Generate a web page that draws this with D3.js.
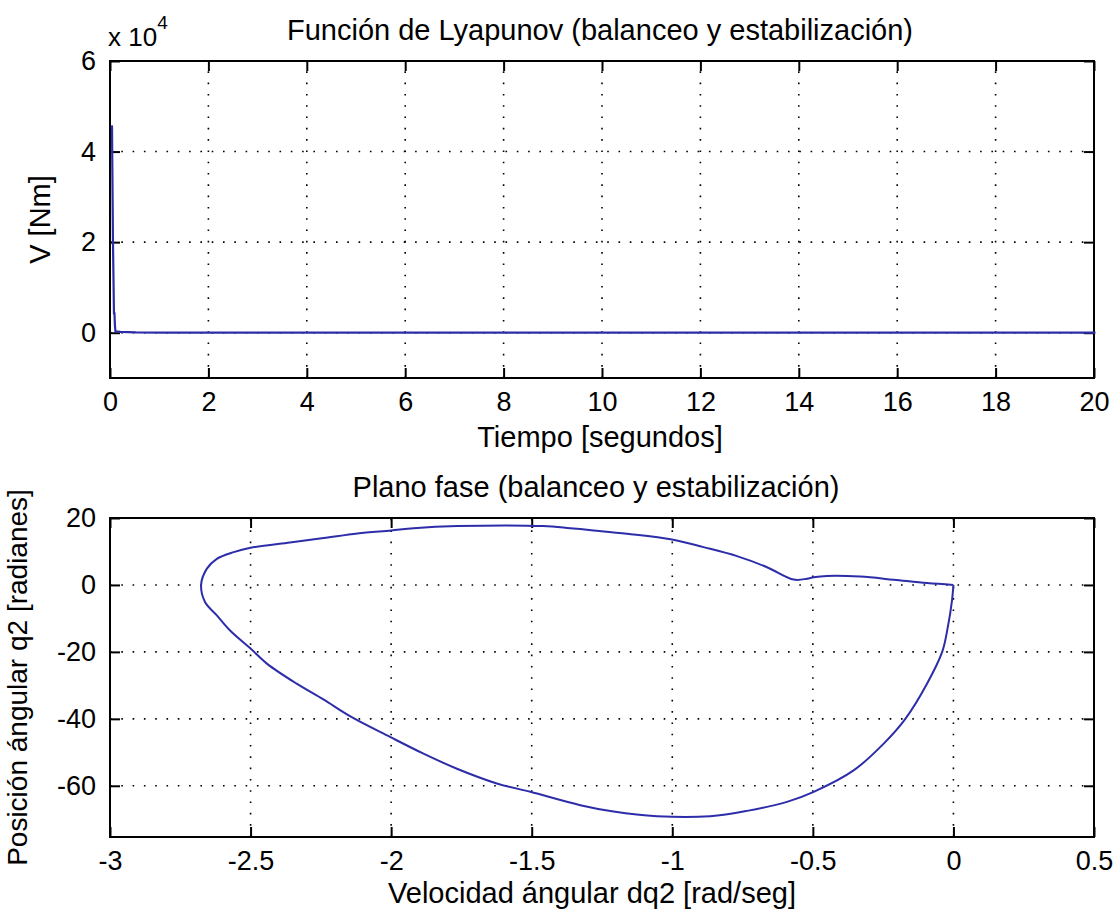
<!DOCTYPE html>
<html>
<head>
<meta charset="utf-8">
<script src="https://cdnjs.cloudflare.com/ajax/libs/d3/7.8.5/d3.min.js"></script>
<style>
  html, body { margin: 0; padding: 0; background: #ffffff; }
  svg { display: block; }
  text { font-family: "Liberation Sans", Arial, Helvetica, sans-serif; fill: #000; }
</style>
</head>
<body>
<svg id="fig" width="1119" height="917"></svg>
<script>
// Lyapunov function V(t) during swing-up and stabilisation
const lyapT = [0, 0.01, 0.03, 0.05, 0.06, 0.07, 0.08, 0.18, 0.5, 1, 2, 5, 10, 20];
const lyapV = [45800, 45500, 20000, 4300, 4300, 1500, 300, 200, 60, 20, 5, 0, 0, 0];
const topXTicks = [0, 2, 4, 6, 8, 10, 12, 14, 16, 18, 20];
const topYTicks = [0, 20000, 40000, 60000];

// Phase plane trajectory: angular velocity dq2 vs. angular position q2
const phaseDq2 = [0, -0.005, -0.02, -0.04, -0.094, -0.171, -0.248, -0.355, -0.497, -0.592,
  -0.734, -0.865, -1.054, -1.209, -1.327, -1.505, -1.624, -1.766, -1.885, -2.004,
  -2.14, -2.241, -2.336, -2.442, -2.50, -2.573, -2.62, -2.662, -2.676,
  -2.656, -2.62, -2.56, -2.50, -2.36, -2.24, -2.12, -2.0, -1.92, -1.765,
  -1.46, -1.363, -1.28, -1.161, -1.001, -0.889, -0.77, -0.663, -0.568, -0.521,
  -0.497, -0.45, -0.331, -0.212, -0.094, 0];
const phaseQ2 = [0, -4.6, -12.6, -20, -29.5, -40, -47.4, -55.4, -61.8, -64.8,
  -67.5, -69.1, -69.1, -67.7, -65.8, -61.8, -59.3, -54.9, -50.4, -45.4,
  -39.5, -34.2, -29.5, -23.5, -19.0, -13.6, -9.1, -5.1, 0,
  4.8, 7.8, 9.8, 11.1, 12.7, 14.0, 15.4, 16.3, 16.96, 17.6,
  17.6, 16.96, 16.3, 15.3, 13.6, 11.3, 8.6, 5.3, 1.6, 1.85,
  2.3, 2.7, 2.5, 1.55, 0.55, 0];
const botXTicks = [-3, -2.5, -2, -1.5, -1, -0.5, 0, 0.5];
const botYTicks = [-60, -40, -20, 0, 20];

const svg = d3.select("#fig");
const FS_TICK = 27;
const FS_LABEL = 29;
const lineColor = "#2d2daa";

function drawAxes(opt) {
  const { x, y, xTicks, yTicks, xFmt, yFmt, left, right, top, bottom } = opt;
  const g = svg.append("g");

  // dotted grid
  const grid = g.append("g").attr("stroke", "#000").attr("stroke-width", 1.6)
    .attr("stroke-dasharray", "1.6,9.7").attr("fill", "none");
  xTicks.forEach(v => {
    const px = x(v);
    if (px > left + 1 && px < right - 1)
      grid.append("line").attr("x1", px).attr("x2", px).attr("y1", bottom).attr("y2", top);
  });
  yTicks.forEach(v => {
    const py = y(v);
    if (py > top + 1 && py < bottom - 1)
      grid.append("line").attr("x1", left).attr("x2", right).attr("y1", py).attr("y2", py);
  });

  // axes with inward ticks on all four sides
  const tl = 10;
  const axB = d3.axisBottom(x).tickValues(xTicks).tickSizeInner(-tl).tickSizeOuter(0).tickFormat(xFmt).tickPadding(14);
  const axT = d3.axisTop(x).tickValues(xTicks).tickSizeInner(-tl).tickSizeOuter(0).tickFormat("");
  const axL = d3.axisLeft(y).tickValues(yTicks).tickSizeInner(-tl).tickSizeOuter(0).tickFormat(yFmt).tickPadding(14);
  const axR = d3.axisRight(y).tickValues(yTicks).tickSizeInner(-tl).tickSizeOuter(0).tickFormat("");

  const gb = g.append("g").attr("transform", `translate(0,${bottom})`).call(axB);
  const gt = g.append("g").attr("transform", `translate(0,${top})`).call(axT);
  const gl = g.append("g").attr("transform", `translate(${left},0)`).call(axL);
  const gr = g.append("g").attr("transform", `translate(${right},0)`).call(axR);
  [gb, gt, gl, gr].forEach(a => {
    a.selectAll(".domain").remove();
    a.selectAll(".tick line").attr("stroke", "#000").attr("stroke-width", 2);
    a.selectAll("text").attr("font-size", FS_TICK).attr("font-family", "Liberation Sans, Arial, sans-serif").attr("fill", "#000");
  });
  // frame
  g.append("rect").attr("x", left).attr("y", top).attr("width", right - left).attr("height", bottom - top)
    .attr("fill", "none").attr("stroke", "#000").attr("stroke-width", 2);
  // data layer drawn above the frame
  return g.append("g");
}

// ---- top: Lyapunov function ----
const T = { left: 110, right: 1094, top: 61, bottom: 378 };
const x1 = d3.scaleLinear().domain([0, 20]).range([T.left, T.right]);
const y1 = d3.scaleLinear().domain([-10000, 60000]).range([T.bottom, T.top]);
const p1 = drawAxes({ x: x1, y: y1, xTicks: topXTicks, yTicks: topYTicks,
  xFmt: d => d3.format("d")(d), yFmt: d => d3.format("d")(d / 10000), ...T });
p1.append("path")
  .datum(lyapT.map((t, i) => [t, lyapV[i]]))
  .attr("d", d3.line().x(d => x1(d[0]) + 1.5).y(d => y1(d[1])))
  .attr("fill", "none").attr("stroke", lineColor).attr("stroke-width", 2.2);

svg.append("text").attr("x", 600).attr("y", 40).attr("text-anchor", "middle").attr("font-size", FS_LABEL)
  .text("Función de Lyapunov (balanceo y estabilización)");
svg.append("text").attr("x", 600).attr("y", 447).attr("text-anchor", "middle").attr("font-size", FS_LABEL)
  .text("Tiempo [segundos]");
svg.append("text").attr("transform", `translate(50,${(T.top + T.bottom) / 2}) rotate(-90)`)
  .attr("text-anchor", "middle").attr("font-size", FS_LABEL).text("V [Nm]");
const expo = svg.append("text").attr("x", 108).attr("y", 46).attr("font-size", FS_TICK - 1);
expo.append("tspan").text("x 10");
expo.append("tspan").attr("dy", -17).attr("font-size", FS_TICK - 8).text("4");

// ---- bottom: phase plane ----
const B = { left: 110, right: 1094, top: 518, bottom: 837 };
const x2 = d3.scaleLinear().domain([-3, 0.5]).range([B.left, B.right]);
const y2 = d3.scaleLinear().domain([-75.3, 20]).range([B.bottom, B.top]);
const p2 = drawAxes({ x: x2, y: y2, xTicks: botXTicks, yTicks: botYTicks,
  xFmt: d => String(d), yFmt: d => String(d), ...B });
p2.append("path")
  .datum(phaseDq2.map((v, i) => [v, phaseQ2[i]]))
  .attr("d", d3.line().curve(d3.curveCatmullRom.alpha(0.5)).x(d => x2(d[0])).y(d => y2(d[1])))
  .attr("fill", "none").attr("stroke", lineColor).attr("stroke-width", 2);

svg.append("text").attr("x", 596).attr("y", 497).attr("text-anchor", "middle").attr("font-size", FS_LABEL)
  .text("Plano fase (balanceo y estabilización)");
svg.append("text").attr("x", 592).attr("y", 903).attr("text-anchor", "middle").attr("font-size", FS_LABEL)
  .text("Velocidad ángular dq2 [rad/seg]");
svg.append("text").attr("transform", `translate(27,${(B.top + B.bottom) / 2}) rotate(-90)`)
  .attr("text-anchor", "middle").attr("font-size", FS_LABEL - 1).text("Posición ángular q2 [radianes]");
</script>
</body>
</html>
